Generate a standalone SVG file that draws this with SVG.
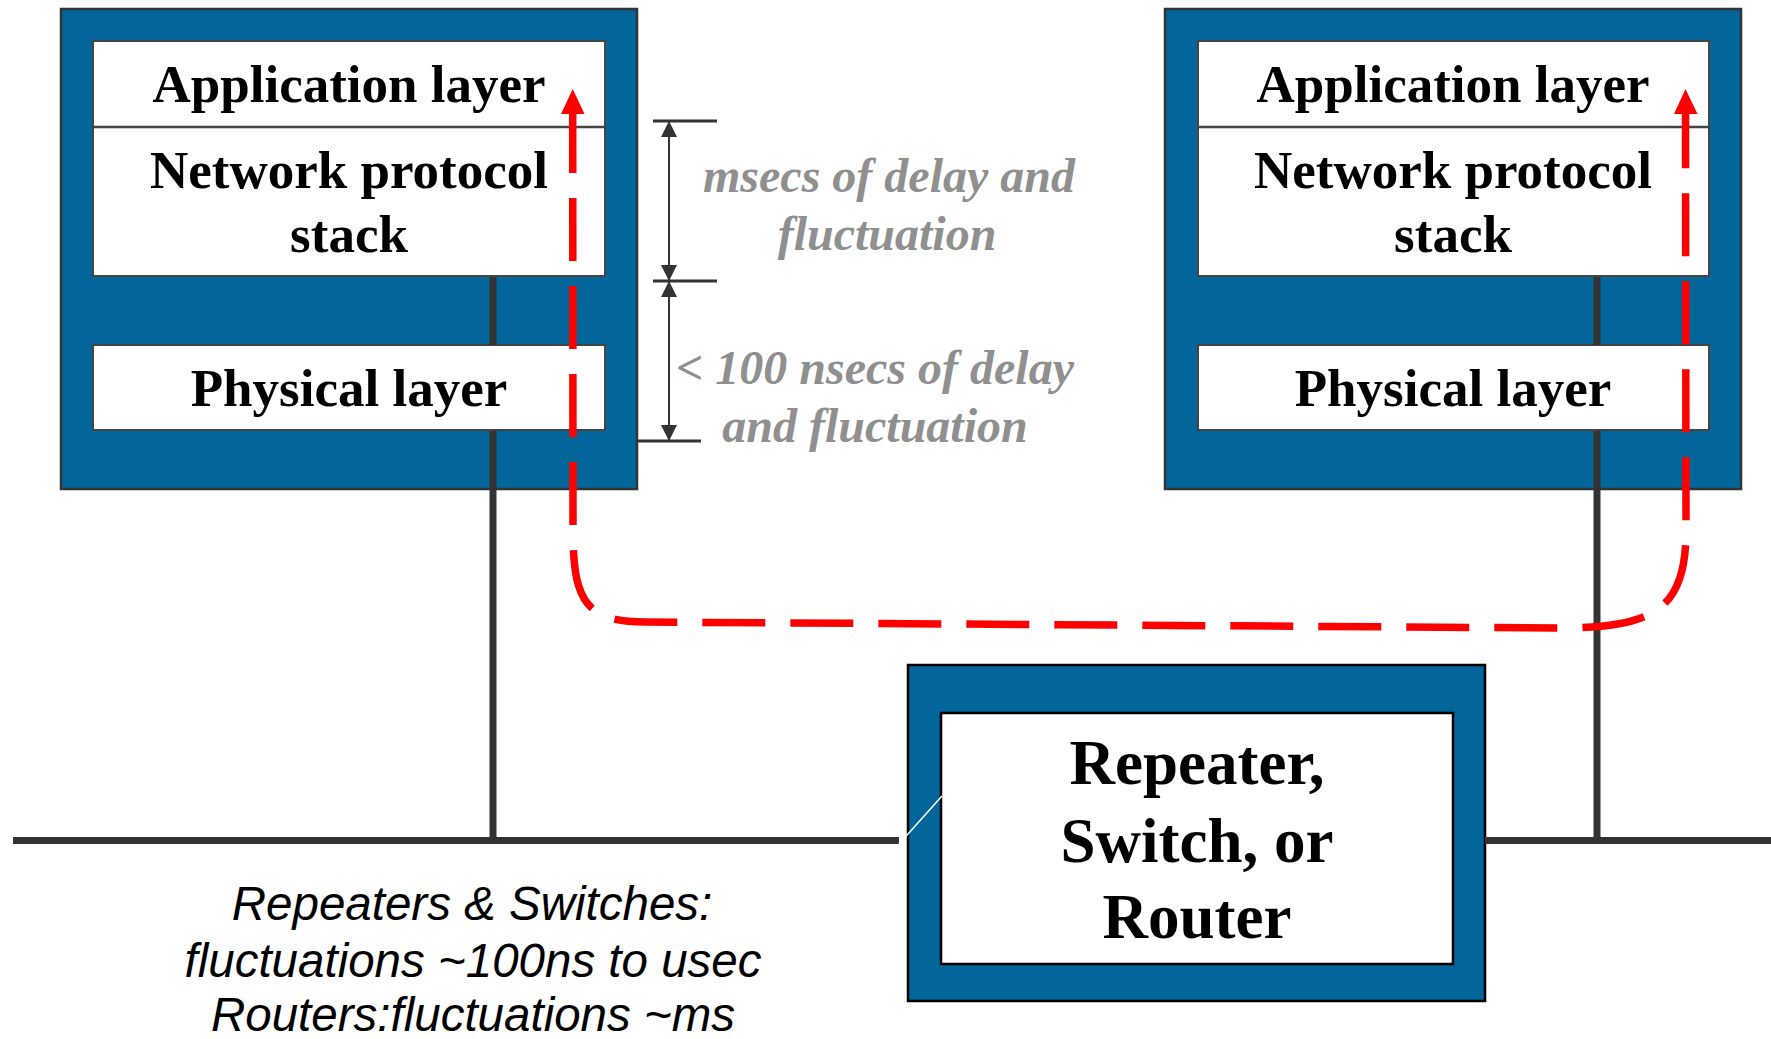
<svg xmlns="http://www.w3.org/2000/svg" width="1771" height="1039" viewBox="0 0 1771 1039">
<style>
.outer{fill:#02669a;stroke:#333;stroke-width:2.5}
.inner{fill:#fff;stroke:#444;stroke-width:2}
.rinner{fill:#fff;stroke:#000;stroke-width:2.5}
.router{fill:#02669a;stroke:#000;stroke-width:2.5}
.lbl{font-family:"Liberation Serif","Times New Roman",serif;font-weight:bold;font-size:53px;fill:#000;text-anchor:middle}
.rlbl{font-family:"Liberation Serif","Times New Roman",serif;font-weight:bold;font-size:63px;fill:#000;text-anchor:middle}
.gray{font-family:"Liberation Serif","Times New Roman",serif;font-weight:bold;font-style:italic;font-size:48px;fill:#8f8f8f;text-anchor:middle}
.note{font-family:"Liberation Sans",Arial,sans-serif;font-style:italic;font-size:47.5px;fill:#000;text-anchor:middle}
.wire{stroke:#333;stroke-width:7;fill:none}
.dim{stroke:#333;stroke-width:2;fill:none}
.tick{stroke:#333;stroke-width:3;fill:none}
.ah{fill:#333}
</style>
<g id="host-left">
<rect class="outer" x="61" y="9" width="576" height="480"/>
<rect class="inner" x="93" y="41" width="512" height="235"/>
<line x1="93" y1="127" x2="605" y2="127" stroke="#444" stroke-width="2.5"/>
<rect class="inner" x="93" y="345" width="512" height="85"/>
<text class="lbl" x="349" y="102">Application layer</text>
<text class="lbl" x="349" y="188">Network protocol</text>
<text class="lbl" x="349" y="252">stack</text>
<text class="lbl" x="349" y="406">Physical layer</text>
</g>
<g id="host-right">
<rect class="outer" x="1165" y="9" width="576" height="480"/>
<rect class="inner" x="1198" y="41" width="511" height="235"/>
<line x1="1198" y1="127" x2="1709" y2="127" stroke="#444" stroke-width="2.5"/>
<rect class="inner" x="1198" y="345" width="511" height="85"/>
<text class="lbl" x="1453" y="102">Application layer</text>
<text class="lbl" x="1453" y="188">Network protocol</text>
<text class="lbl" x="1453" y="252">stack</text>
<text class="lbl" x="1453" y="406">Physical layer</text>
</g>
<g id="router">
<rect class="router" x="908" y="665" width="577" height="336"/>
<rect class="rinner" x="941" y="713" width="512" height="251"/>
<text class="rlbl" x="1197" y="784">Repeater,</text>
<text class="rlbl" x="1197" y="862">Switch, or</text>
<text class="rlbl" x="1197" y="938">Router</text>
</g>
<g id="connectors">
<line class="wire" x1="493" y1="277" x2="493" y2="345"/>
<line class="wire" x1="493" y1="431" x2="493" y2="840"/>
<line class="wire" x1="1597" y1="277" x2="1597" y2="345"/>
<line class="wire" x1="1597" y1="431" x2="1597" y2="840"/>
<line class="wire" x1="13" y1="840.5" x2="899" y2="840.5"/>
<line class="wire" x1="1485" y1="840.5" x2="1771" y2="840.5"/>
<line x1="899" y1="844" x2="942" y2="796" stroke="#fff" stroke-width="1.5"/>
<path d="M572.7,113 L573,530 C573,600 585,622 645,622 L1560,628 C1660,628 1686,605 1686,530 L1685.5,113" fill="none" stroke="#ff0000" stroke-width="7.5" stroke-dasharray="63 25" stroke-dashoffset="3"/>
<polygon points="572.7,89 561,114 584.5,114" fill="#ff0000"/>
<polygon points="1685.5,89 1674,114 1697.5,114" fill="#ff0000"/>
</g>
<g id="dimensions">
<line class="tick" x1="653" y1="121" x2="717" y2="121"/>
<line class="tick" x1="653" y1="281" x2="717" y2="281"/>
<line class="tick" x1="637" y1="441" x2="701" y2="441"/>
<line class="dim" x1="669" y1="121" x2="669" y2="441"/>
<polygon class="ah" points="669,121 661,137 677,137"/>
<polygon class="ah" points="669,281 661,265 677,265"/>
<polygon class="ah" points="669,281 661,297 677,297"/>
<polygon class="ah" points="669,441 661,425 677,425"/>
<text class="gray" x="889" y="192">msecs of delay and</text>
<text class="gray" x="887" y="250">fluctuation</text>
<text class="gray" x="875" y="384">&lt; 100 nsecs of delay</text>
<text class="gray" x="875" y="442">and fluctuation</text>
</g>
<g id="notes">
<text class="note" x="472" y="920">Repeaters &amp; Switches:</text>
<text class="note" x="473" y="977">fluctuations ~100ns to usec</text>
<text class="note" x="473" y="1031">Routers:fluctuations ~ms</text>
</g>
</svg>
